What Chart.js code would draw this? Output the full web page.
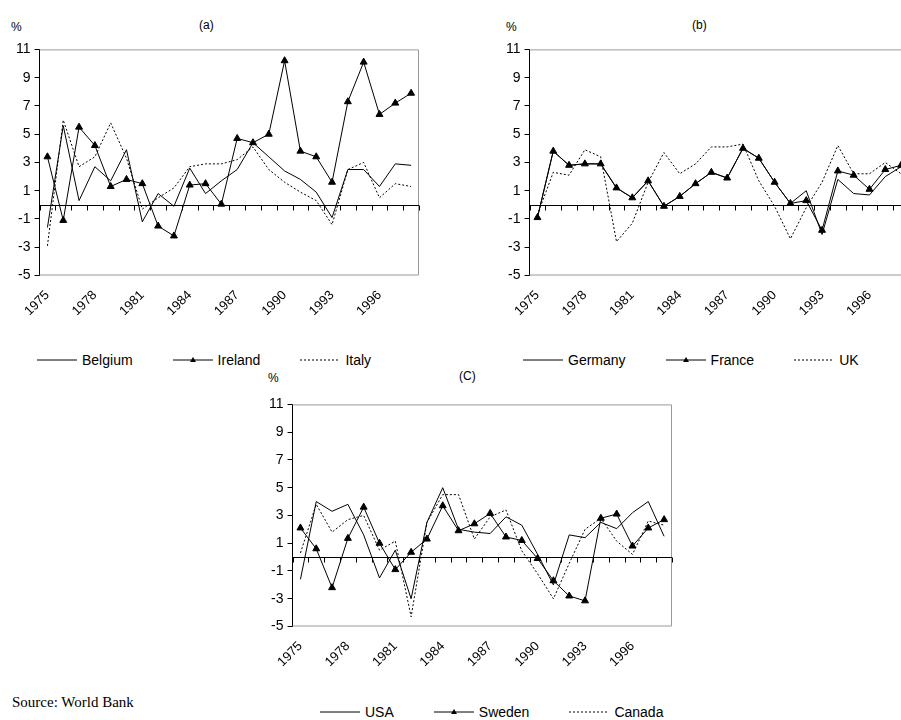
<!DOCTYPE html>
<html><head><meta charset="utf-8">
<script src="https://cdn.jsdelivr.net/npm/chart.js@4"></script>
<style>
body{margin:0;background:#fff;font-family:Arial,"Liberation Sans",sans-serif;overflow:hidden;}
#page{position:relative;width:901px;height:720px;overflow:hidden;}
.box{position:absolute;width:427px;height:286px;}
.t{position:absolute;font-size:12px;line-height:12px;}
.leg{position:absolute;font-size:14px;line-height:14px;display:flex;align-items:center;white-space:nowrap;}
.leg span{display:inline-flex;align-items:center;margin-right:40px;}
.leg svg{margin-right:5px;}
#src{position:absolute;left:12px;top:694px;font-family:"Liberation Serif","DejaVu Serif",serif;font-size:15px;}
</style></head><body>
<div id="page">
  <div class="box" style="left:2px;top:37px"><canvas id="ca"></canvas></div>
  <div class="box" style="left:492px;top:37px"><canvas id="cb"></canvas></div>
  <div class="box" style="left:255px;top:392px;height:282px"><canvas id="cc"></canvas></div>
  <div class="t" style="left:11px;top:21px">%</div>
  <div class="t" style="left:199px;top:19px">(a)</div>
  <div class="t" style="left:506px;top:21px">%</div>
  <div class="t" style="left:692px;top:19px">(b)</div>
  <div class="t" style="left:268px;top:372px">%</div>
  <div class="t" style="left:459px;top:370px">(C)</div>
  <div id="la" class="leg" style="left:37px;top:353px"></div>
  <div id="lb" class="leg" style="left:523px;top:353px"></div>
  <div id="lc" class="leg" style="left:320px;top:705px"></div>
  <div id="src">Source: World Bank</div>
</div>
<script>
const years = [];
for (let y = 1975; y <= 1998; y++) years.push(String(y));
const yTicks = [-5, -3, -1, 1, 3, 5, 7, 9, 11];

const belgium = [-1.6,5.6,0.3,2.7,1.7,3.9,-1.2,0.8,-0.1,2.6,0.8,1.7,2.5,4.4,3.4,2.4,1.8,0.9,-0.9,2.5,2.5,1.3,2.9,2.8];
const ireland = [3.4,-1.1,5.5,4.2,1.3,1.8,1.5,-1.5,-2.2,1.4,1.5,0.05,4.7,4.4,5.0,10.2,3.8,3.4,1.6,7.3,10.1,6.4,7.2,7.9];
const italy = [-2.9,6.0,2.7,3.4,5.8,3.3,-0.3,0.5,1.2,2.7,2.9,2.9,3.2,4.1,2.5,1.6,0.9,0.3,-1.4,2.5,3.0,0.5,1.5,1.3];

const germany = [-0.9,3.8,2.8,2.9,2.9,1.2,0.5,1.7,-0.1,0.6,1.5,2.3,1.9,4.0,3.3,1.6,0.1,1.0,-2.1,1.8,0.8,0.7,2.0,2.7];
const france = [-0.9,3.8,2.8,2.9,2.9,1.2,0.5,1.7,-0.1,0.6,1.5,2.3,1.9,4.0,3.3,1.6,0.1,0.3,-1.8,2.4,2.1,1.1,2.5,2.8];
const uk = [-0.7,2.3,2.1,3.9,3.4,-2.6,-1.3,1.6,3.7,2.2,2.9,4.1,4.1,4.3,1.7,-0.1,-2.4,-0.2,1.6,4.2,2.2,2.2,3.0,2.2];

const usa = [-1.6,4.0,3.3,3.8,1.6,-1.5,0.5,-3.0,2.5,5.0,2.0,1.8,1.7,2.9,2.3,0.2,-2.0,1.6,1.4,2.5,2.05,3.2,4.0,1.5];
const sweden = [2.1,0.6,-2.2,1.35,3.6,1.0,-0.9,0.35,1.3,3.7,1.9,2.4,3.15,1.45,1.2,-0.1,-1.7,-2.8,-3.15,2.8,3.1,0.8,2.1,2.7];
const canada = [0.3,3.8,1.8,2.7,3.0,0.5,1.15,-4.3,2.5,4.5,4.5,1.3,2.9,3.4,0.45,-1.2,-3.0,-0.45,2.0,2.8,1.15,0.2,2.6,2.3];

const zeroAxis = {
  id: "zeroAxis",
  beforeDatasetsDraw(chart) {
    const { ctx, chartArea: a, scales: { x, y } } = chart;
    ctx.save();
    ctx.strokeStyle = "#999"; ctx.lineWidth = 1;
    ctx.beginPath();
    ctx.moveTo(a.left, a.top + 0.5); ctx.lineTo(a.right - 0.5, a.top + 0.5);
    ctx.lineTo(a.right - 0.5, a.bottom - 0.5); ctx.lineTo(a.left, a.bottom - 0.5);
    ctx.stroke();
    const z = Math.round(y.getPixelForValue(0)) + 0.5;
    ctx.strokeStyle = "#000";
    ctx.beginPath();
    ctx.moveTo(a.left, z); ctx.lineTo(a.right, z);
    const half = (x.getPixelForValue(1) - x.getPixelForValue(0)) / 2;
    for (let i = 0; i <= years.length; i++) {
      const px = Math.round(x.getPixelForValue(i) - half) + 0.5;
      ctx.moveTo(px, z); ctx.lineTo(px, z + 5);
    }
    ctx.stroke();
    ctx.restore();
  }
};

function makeChart(id, series) {
  new Chart(document.getElementById(id), {
    type: "line",
    data: {
      labels: years,
      datasets: series.map(s => ({
        label: s.name, data: s.data,
        borderColor: "#000", borderWidth: 1,
        borderDash: s.dash ? [2, 2] : [],
        pointStyle: "triangle",
        pointRadius: s.tri ? 4 : 0,
        pointBackgroundColor: "#000", pointBorderColor: "#000",
        tension: 0
      }))
    },
    options: {
      responsive: true, maintainAspectRatio: false, animation: false,
      layout: { padding: { top: 12, right: 10, left: 10 } },
      plugins: { legend: { display: false }, tooltip: { enabled: false } },
      scales: {
        x: {
          offset: true,
          grid: { display: false }, border: { display: false },
          ticks: {
            autoSkip: false, maxRotation: 45, minRotation: 45, color: "#000",
            font: { size: 13, family: "Arial" }, padding: 4,
            callback: (v, i) => (i % 3 === 0 ? years[i] : "")
          }
        },
        y: {
          min: -5, max: 11,
          afterBuildTicks: s => { s.ticks = yTicks.map(v => ({ value: v })); },
          grid: { drawOnChartArea: false, tickLength: 5, color: "#000" },
          border: { color: "#000" },
          ticks: { color: "#000", font: { size: 14, family: "Arial" }, padding: 4 }
        }
      }
    },
    plugins: [zeroAxis]
  });
}

makeChart("ca", [{ name: "Belgium", data: belgium }, { name: "Ireland", data: ireland, tri: true }, { name: "Italy", data: italy, dash: true }]);
makeChart("cb", [{ name: "Germany", data: germany }, { name: "France", data: france, tri: true }, { name: "UK", data: uk, dash: true }]);
makeChart("cc", [{ name: "USA", data: usa }, { name: "Sweden", data: sweden, tri: true }, { name: "Canada", data: canada, dash: true }]);

function legend(id, names) {
  const icons = [
    '<svg width="40" height="10"><line x1="0" y1="5" x2="40" y2="5" stroke="#000"/></svg>',
    '<svg width="40" height="10"><line x1="0" y1="5" x2="40" y2="5" stroke="#000"/><polygon points="20,2 23,7 17,7" fill="#000"/></svg>',
    '<svg width="40" height="10"><line x1="0" y1="5" x2="40" y2="5" stroke="#000" stroke-dasharray="2,2"/></svg>'
  ];
  document.getElementById(id).innerHTML = names.map((n, i) => `<span>${icons[i]}${n}</span>`).join("");
}
legend("la", ["Belgium", "Ireland", "Italy"]);
legend("lb", ["Germany", "France", "UK"]);
legend("lc", ["USA", "Sweden", "Canada"]);
</script>
</body></html>
